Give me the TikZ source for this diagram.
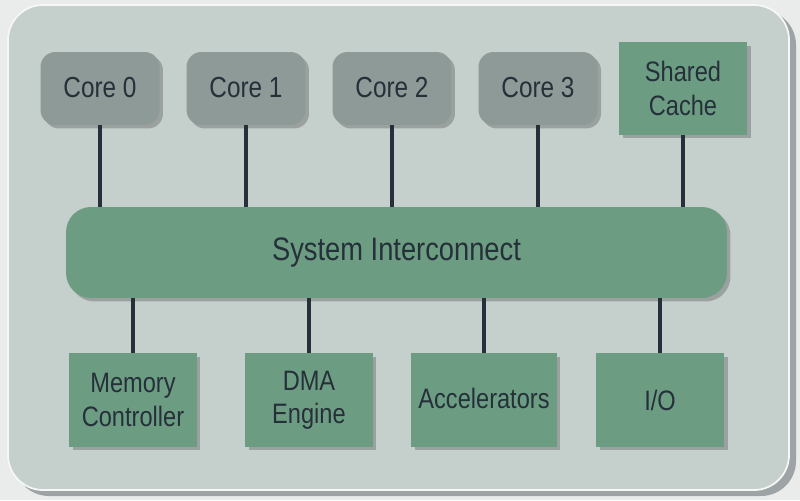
\documentclass[tikz,border=0pt]{standalone}
\usepackage{fontspec}
\setmainfont[FakeStretch=0.84]{Liberation Sans}
\usetikzlibrary{shadows}
\definecolor{pagebg}{HTML}{E9ECEB}
\definecolor{framebg}{HTML}{C5CFCB}
\definecolor{framesh}{HTML}{9EA3A5}
\definecolor{coregray}{HTML}{8E9A97}
\definecolor{boxgreen}{HTML}{6C9D82}
\definecolor{inkdark}{HTML}{26303A}
\tikzset{
  x=0.02cm, y=-0.02cm,
  shade/.style={drop shadow={shadow xshift=0.07cm, shadow yshift=-0.07cm, opacity=0.35, fill=black!70}},
  corebox/.style={shade, fill=coregray, rounded corners=0.3cm, minimum width=2.38cm, minimum height=1.46cm, text=inkdark, font=\fontsize{16.5}{18}\selectfont, inner sep=0pt},
  greenbox/.style={shade, fill=boxgreen, minimum width=2.56cm, minimum height=1.88cm, text=inkdark, font=\fontsize{16}{19}\selectfont, align=center, inner sep=0pt},
  busbox/.style={shade, fill=boxgreen, rounded corners=0.5cm, minimum width=13.22cm, minimum height=1.82cm, text=inkdark, font=\fontsize{18.5}{20}\selectfont, inner sep=0pt},
  link/.style={draw=inkdark, line width=1.8pt},
}
\begin{document}
\begin{tikzpicture}
\fill[pagebg] (0,0) rectangle (800,500);
\useasboundingbox (0,0) rectangle (800,500);
\fill[framesh] (14,10) [rounded corners=0.7cm] rectangle (796,496);
\fill[framebg, draw=white!85!framebg, line width=1pt, rounded corners=0.7cm] (8,5) rectangle (789,490);

\node[corebox] (c0) at (100,88.5) {\raisebox{1.5pt}{Core 0}};
\node[corebox] (c1) at (246,88.5) {\raisebox{1.5pt}{Core 1}};
\node[corebox] (c2) at (392,88.5) {\raisebox{1.5pt}{Core 2}};
\node[corebox] (c3) at (538,88.5) {\raisebox{1.5pt}{Core 3}};
\node[greenbox, minimum height=1.86cm] (sc) at (683,88.5) {Shared\\Cache};

\node[busbox] (bus) at (396.5,252.5) {System Interconnect};

\node[greenbox] (mc) at (133,400) {Memory\\Controller};
\node[greenbox] (dma) at (309,400) {DMA\\Engine};
\node[greenbox, minimum width=2.92cm] (acc) at (484,400) {\raisebox{2pt}{Accelerators}};
\node[greenbox] (io) at (660,400) {I/O};

\foreach \n in {c0,c1,c2,c3,sc}{
  \draw[link] (\n.south) -- (\n.south |- bus.north);
}
\foreach \n in {mc,dma,acc,io}{
  \draw[link] (\n.north) -- (\n.north |- bus.south);
}
\end{tikzpicture}
\end{document}
